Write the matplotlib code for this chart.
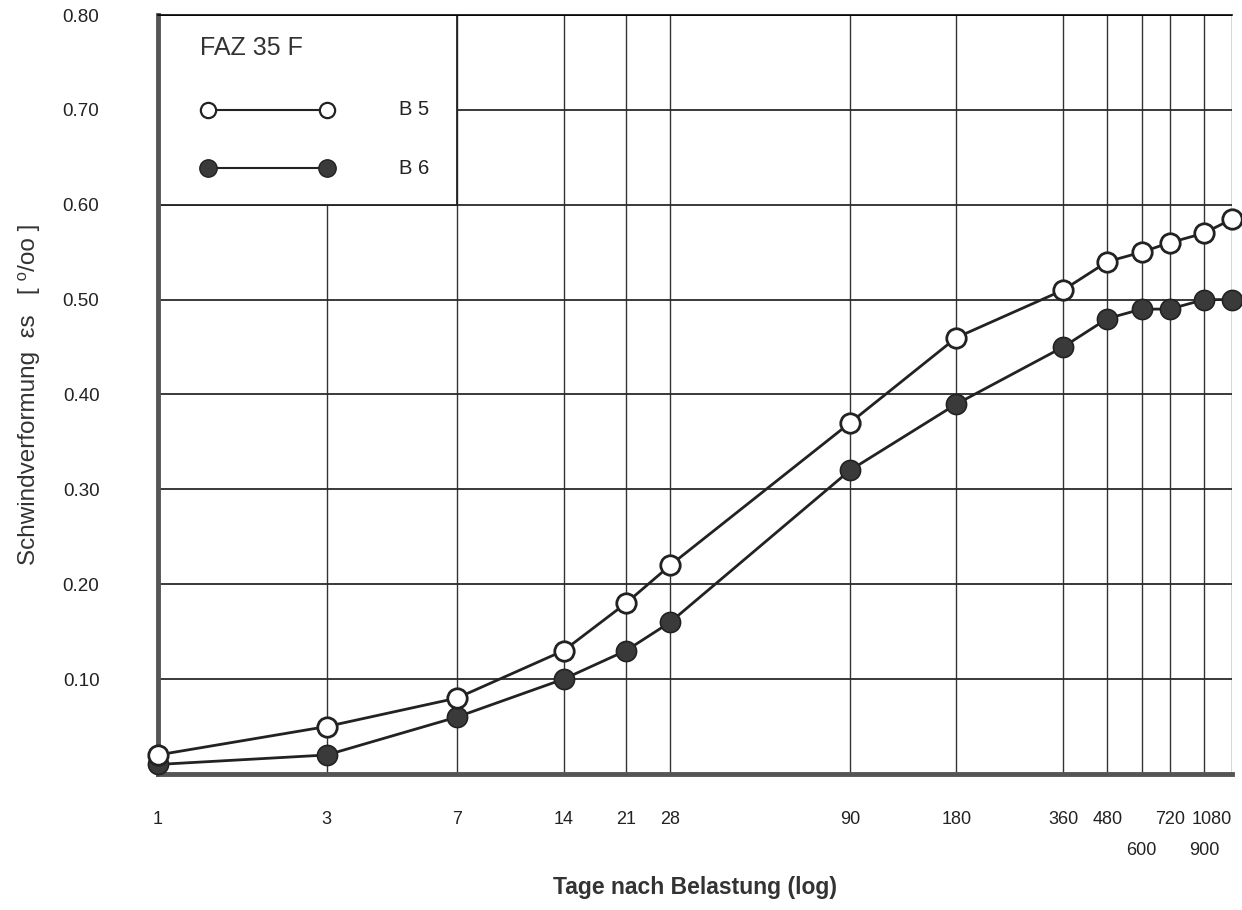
import matplotlib.pyplot as plt
from matplotlib.patches import Rectangle
from matplotlib.ticker import FixedLocator

plt.rcParams['font.family'] = ['Liberation Sans', 'DejaVu Sans']

# Tage nach Belastung
tage = [1, 3, 7, 14, 21, 28, 90, 180, 360, 480, 600, 720, 900, 1080]
# obere und untere Reihe der Beschriftung
tage_oben = [1, 3, 7, 14, 21, 28, 90, 180, 360, 480, 720, 1080]
tage_unten = [600, 900]
# Schwindverformung [0/oo]
b5 = [0.02, 0.05, 0.08, 0.13, 0.18, 0.22, 0.37, 0.46, 0.51, 0.54, 0.55, 0.56, 0.57, 0.585]
b6 = [0.01, 0.02, 0.06, 0.10, 0.13, 0.16, 0.32, 0.39, 0.45, 0.48, 0.49, 0.49, 0.50, 0.50]
y_ticks = [0.10, 0.20, 0.30, 0.40, 0.50, 0.60, 0.70, 0.80]

fig = plt.figure(figsize=(12.42, 9.10), dpi=100)
ax = fig.add_axes([0.127, 0.1495, 0.865, 0.834])

ax.set_xscale('log')
ax.set_xlim(1, 1080)
ax.set_ylim(0, 0.80)
ax.xaxis.set_major_locator(FixedLocator(tage_oben))
ax.xaxis.set_minor_locator(FixedLocator(tage_unten))
ax.set_xticklabels([str(t) for t in tage_oben])
ax.set_xticklabels([str(t) for t in tage_unten], minor=True)
ax.set_yticks(y_ticks)
ax.set_yticklabels(['%.2f' % v for v in y_ticks])
ax.tick_params(which='both', length=0, colors='#222222')
ax.tick_params(axis='x', which='major', pad=27, labelsize=13)
ax.tick_params(axis='x', which='minor', pad=49, labelsize=13)
ax.tick_params(axis='y', pad=42, labelsize=13.5)
ax.get_xticklabels()[-1].set_horizontalalignment('right')

ax.set_axisbelow(True)
ax.grid(True, which='both', axis='x', color='#333333', linewidth=1.0)
ax.grid(True, axis='y', color='#2a2a2a', linewidth=1.3)

# Legendenkasten oben links
ax.add_patch(Rectangle((1, 0.60), 6, 0.20, facecolor='white',
                       edgecolor='#222222', linewidth=1.3, zorder=1))

ax.spines['right'].set_visible(False)
ax.spines['top'].set_linewidth(1.2)
ax.spines['left'].set_linewidth(3.5)
ax.spines['left'].set_color('#555555')
ax.spines['bottom'].set_linewidth(3.5)
ax.spines['bottom'].set_color('#555555')

ax.plot(tage, b5, color='#222222', linewidth=2.0, marker='o', markersize=14,
        markerfacecolor='white', markeredgecolor='#222222', markeredgewidth=2.0,
        clip_on=False, zorder=4)
ax.plot(tage, b6, color='#222222', linewidth=2.0, marker='o', markersize=14.5,
        markerfacecolor='#3a3a3a', markeredgecolor='#222222', markeredgewidth=1.2,
        clip_on=False, zorder=3)

# Legende
ax.text(0.039, 0.957, 'FAZ 35 F', transform=ax.transAxes, fontsize=18,
        color='#333333', va='center', ha='left')
ax.plot([0.0466, 0.158], [0.875, 0.875], transform=ax.transAxes, color='#222222',
        linewidth=1.5, marker='o', markersize=11, markerfacecolor='white',
        markeredgecolor='#222222', markeredgewidth=1.6, zorder=4)
ax.plot([0.0466, 0.158], [0.798, 0.798], transform=ax.transAxes, color='#222222',
        linewidth=1.5, marker='o', markersize=12.5, markerfacecolor='#3a3a3a',
        markeredgecolor='#222222', zorder=4)
ax.text(0.225, 0.875, 'B 5', transform=ax.transAxes, fontsize=14.5,
        color='#222222', va='center', ha='left')
ax.text(0.225, 0.798, 'B 6', transform=ax.transAxes, fontsize=14.5,
        color='#222222', va='center', ha='left')

ax.set_xlabel('Tage nach Belastung (log)', fontsize=16.5, fontweight='bold',
              color='#333333', labelpad=12)
ax.set_ylabel('Schwindverformung  \u03b5s   [ \u2070/oo ]', fontsize=17.5,
              color='#333333', labelpad=16)

fig.savefig('out.png', dpi=100)
